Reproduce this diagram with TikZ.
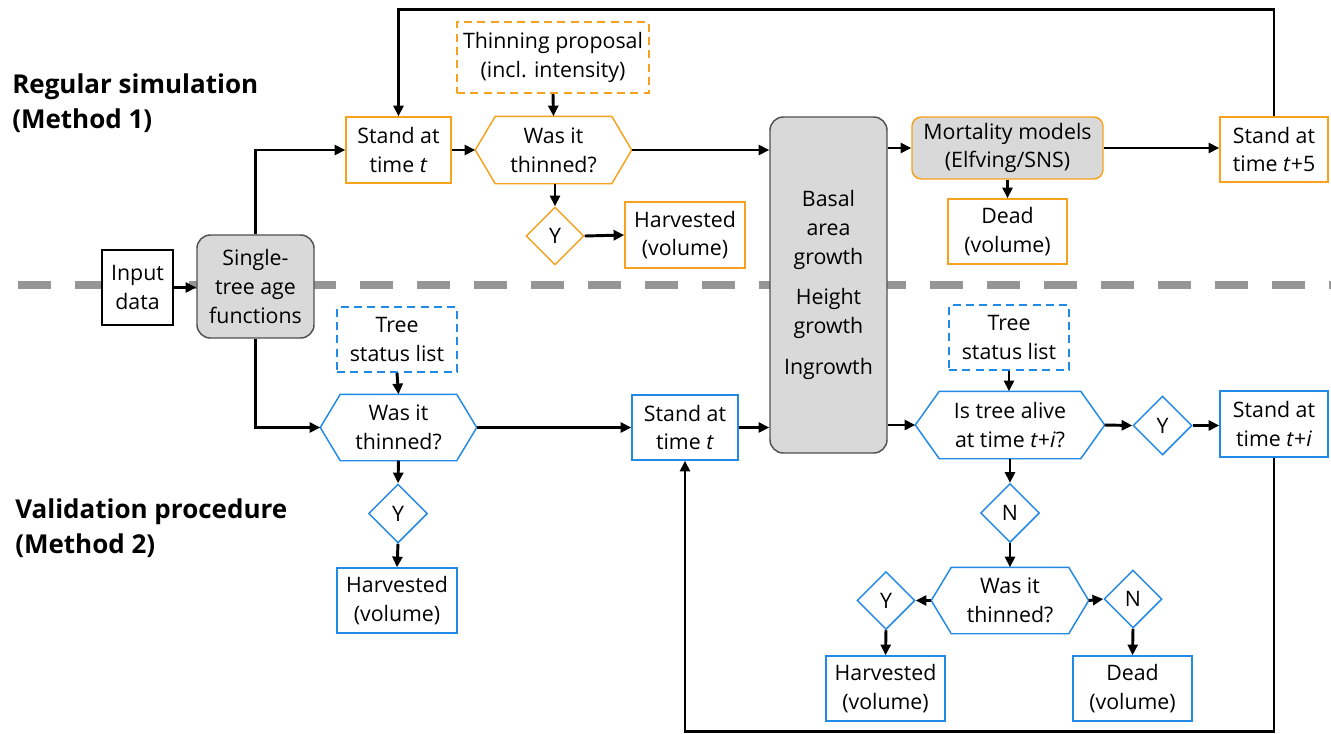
\documentclass[tikz,border=0pt]{standalone}
\usepackage{fontspec}
\setmainfont{Open Sans}
\usetikzlibrary{arrows.meta,shapes.geometric}
\definecolor{orng}{RGB}{247,162,30}
\definecolor{blu}{RGB}{33,137,230}
\definecolor{gfill}{RGB}{217,217,217}
\definecolor{gline}{RGB}{80,80,80}
\definecolor{dashg}{RGB}{150,150,150}
\newcommand\mainfnt{\fontsize{16}{21.5}\selectfont}
\newcommand\titlefnt{\fontsize{19.5}{26}\selectfont\bfseries}
\newcommand\hexpath[3]{%
  \draw[#2, line width=1.1pt, line join=miter] (#1.west) -- ([xshift=#3]#1.north west) -- ([xshift=-#3]#1.north east) -- (#1.east) -- ([xshift=-#3]#1.south east) -- ([xshift=#3]#1.south west) -- cycle;}
\tikzset{
  base/.style={inner sep=0pt, align=center, font=\mainfnt, line width=1.1pt, fill=white},
  sz/.style 2 args={minimum width=#1*0.75pt, minimum height=#2*0.75pt},
  obox/.style={base, draw=orng},
  bbox/.style={base, draw=blu},
  kbox/.style={base, draw=black},
  odash/.style={base, draw=orng, dash pattern=on 6pt off 4pt, line width=1.4pt},
  bdash/.style={base, draw=blu, dash pattern=on 6pt off 4pt, line width=1.4pt},
  gbox/.style={base, fill=gfill, draw=gline, rounded corners=10pt},
  hexnode/.style={base, fill=none},
  dia/.style={base, shape=diamond, aspect=1, minimum width=#1*0.75pt, minimum height=#1*0.75pt},
  odia/.style={dia=#1, draw=orng},
  bdia/.style={dia=#1, draw=blu},
  arr/.style={-{Triangle[length=8pt,width=7.5pt]}, line width=2.2pt},
  title/.style={anchor=base west, font=\titlefnt, inner sep=0pt}
}
\begin{document}
\begin{tikzpicture}[x=0.75pt,y=-0.75pt]
\useasboundingbox (0,0) rectangle (1331,733);
% separator
\draw[dashg, line width=6pt, dash pattern=on 24.75pt off 18pt] (18,285) -- (1331,285);
% titles
\node[title] (t1a) at (12,93) {Regular simulation};
\node[title] (t1b) at (12,128) {(Method 1)};
\node[title] (t2a) at (15,518) {Validation procedure};
\node[title] (t2b) at (15,553) {(Method 2)};
% common
\node[kbox, sz={71}{75}] (inp) at (137.5,287.5) {Input\\data};
\node[gbox, sz={117}{103}] (sta) at (255.5,286.5) {Single-\\tree age\\functions};
\node[gbox, sz={117}{336}] (big) at (828.5,285) {};
\node[inner sep=0pt, align=center, font=\mainfnt] (bigtxt) at (828.5,285) {Basal\\area\\growth\\[9pt]Height\\growth\\[9pt]Ingrowth};
% method 1
\node[obox, sz={105}{66}] (st1) at (398.5,150) {Stand at\\time \textit{t}};
\node[odash, sz={192}{71}] (tp) at (553,57.5) {Thinning proposal\\(incl. intensity)};
\node[hexnode, sz={155}{66}] (h1) at (553.5,150) {Was it\\thinned?};
\hexpath{h1}{orng}{15pt}
\node[odia=58] (y1) at (555,236) {Y};
\node[obox, sz={120}{66}] (hv1) at (685,235) {Harvested\\(volume)};
\node[gbox, draw=orng, rounded corners=7pt, sz={191}{62}] (mort) at (1007.5,148) {Mortality models\\(Elfving/SNS)};
\node[obox, sz={119}{65}] (dead1) at (1007.5,231.5) {Dead\\(volume)};
\node[obox, sz={108}{65}] (st5) at (1274,149.5) {Stand at\\time \textit{t}+5};
% method 2
\node[bdash, sz={120}{65}] (tsl1) at (397,339.5) {Tree\\status list};
\node[hexnode, sz={155}{65}] (h2) at (398.5,427.5) {Was it\\thinned?};
\hexpath{h2}{blu}{15pt}
\node[bdia=59] (y2) at (398,513.5) {Y};
\node[bbox, sz={120}{65}] (hv2) at (397,600.5) {Harvested\\(volume)};
\node[bbox, sz={106}{65}] (st2) at (685,427.5) {Stand at\\time \textit{t}};
\node[bdash, sz={120}{65}] (tsl2) at (1009,337.5) {Tree\\status list};
\node[hexnode, sz={188}{66}] (h3) at (1010,425) {Is tree alive\\at time \textit{t}+\textit{i}?};
\hexpath{h3}{blu}{18pt}
\node[bdia=59] (y3) at (1162.5,425.5) {Y};
\node[bbox, sz={108}{66}] (sti) at (1274,424) {Stand at\\time \textit{t}+\textit{i}};
\node[bdia=59] (n1) at (1010,513) {N};
\node[hexnode, sz={156}{65}] (h4) at (1010,600.5) {Was it\\thinned?};
\hexpath{h4}{blu}{15pt}
\node[bdia=58] (y4) at (886,600.5) {Y};
\node[bdia=58] (n2) at (1133,599) {N};
\node[bbox, sz={119}{65}] (hv3) at (885.5,688.5) {Harvested\\(volume)};
\node[bbox, sz={119}{65}] (dead2) at (1132.5,688.5) {Dead\\(volume)};
% connectors common
\draw[arr] (inp.east) -- (sta.west |- inp.east);
\draw[arr] (sta.north) |- (st1.west);
\draw[arr] (sta.south) |- (h2.west);
% method 1 connectors
\draw[arr] (st1.east) -- (h1.west);
\draw[arr] (tp.south) -- (h1.north);
\draw[arr] (h1.south -| y1.north) -- (y1.north);
\draw[arr] (y1.east) -- (hv1.west);
\draw[arr] (h1.east) -- (big.west |- h1.east);
\draw[arr] (big.east |- mort.west) -- (mort.west);
\draw[arr] (mort.south -| dead1.north) -- (dead1.north);
\draw[arr] (mort.east) -- (st5.west |- mort.east);
\draw[arr] (st5.north) -- ++(0,-107) -| (st1.north);
% method 2 connectors
\draw[arr] (tsl1.south) -- (h2.north);
\draw[arr] (h2.south) -- (y2.north);
\draw[arr] (y2.south) -- (hv2.north);
\draw[arr] (h2.east) -- (st2.west);
\draw[arr] (st2.east) -- (big.west |- st2.east);
\draw[arr] (big.east |- h3.west) -- (h3.west);
\draw[arr] (tsl2.south) -- (h3.north -| tsl2.south);
\draw[arr] (h3.east) -- (y3.west);
\draw[arr] (y3.east) -- (sti.west |- y3.east);
\draw[arr] (h3.south) -- (n1.north);
\draw[arr] (n1.south) -- (h4.north);
\draw[arr] (h4.west) -- (y4.east);
\draw[arr] (h4.east) -- (n2.west);
\draw[arr] (y4.south) -- (hv3.north);
\draw[arr] (n2.south) -- (dead2.north);
\draw[arr] (sti.south) -- ++(0,274) -| (st2.south);
\end{tikzpicture}
\end{document}
